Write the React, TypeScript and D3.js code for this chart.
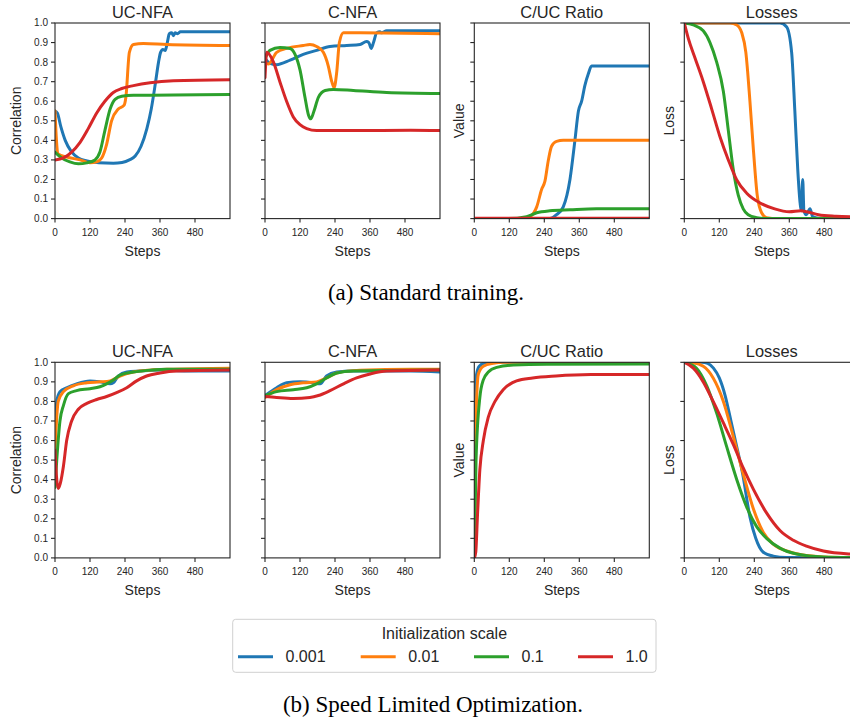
import React from "react";
import * as d3 from "d3";

type Pt = [number, number];

// Initialization scales (legend entries) and their colours
const SCALES = ["0.001", "0.01", "0.1", "1.0"];
const COLORS = ["#1f77b4", "#ff7f0e", "#2ca02c", "#d62728"];

const X_TICKS = [0, 120, 240, 360, 480];
const TENTHS = [0, 0.1, 0.2, 0.3, 0.4, 0.5, 0.6, 0.7, 0.8, 0.9, 1.0];
const FIFTHS = [0, 0.2, 0.4, 0.6, 0.8, 1.0];

// ---------- (a) Standard training ----------
const STD_UC_NFA: Pt[][] = [
  [[0, 0.55], [8, 0.54], [20, 0.47], [35, 0.4], [55, 0.345], [80, 0.31], [110, 0.295], [150, 0.285], [200, 0.283], [230, 0.287], [255, 0.3], [275, 0.32], [295, 0.37], [315, 0.46], [330, 0.56], [345, 0.7], [355, 0.8], [362, 0.85], [370, 0.865], [378, 0.86], [385, 0.9], [392, 0.945], [400, 0.95], [406, 0.935], [412, 0.95], [420, 0.945], [430, 0.955], [600, 0.955]],
  [[0, 0.55], [5, 0.4], [11, 0.33], [40, 0.315], [86, 0.3], [120, 0.285], [143, 0.29], [160, 0.31], [177, 0.38], [194, 0.5], [217, 0.56], [237, 0.58], [243, 0.62], [255, 0.85], [269, 0.89], [303, 0.895], [383, 0.89], [600, 0.885]],
  [[0, 0.34], [23, 0.31], [51, 0.29], [80, 0.28], [109, 0.285], [137, 0.3], [154, 0.34], [171, 0.45], [189, 0.56], [206, 0.61], [229, 0.625], [269, 0.63], [600, 0.635]],
  [[0, 0.3], [29, 0.31], [57, 0.34], [86, 0.39], [114, 0.46], [143, 0.54], [171, 0.6], [200, 0.645], [229, 0.665], [269, 0.68], [326, 0.695], [406, 0.705], [600, 0.71]],
];

const STD_C_NFA: Pt[][] = [
  [[0, 0.82], [15, 0.795], [40, 0.787], [86, 0.81], [131, 0.84], [177, 0.86], [223, 0.88], [280, 0.885], [326, 0.89], [348, 0.905], [356, 0.9], [364, 0.87], [372, 0.9], [383, 0.95], [394, 0.955], [400, 0.95], [417, 0.96], [600, 0.96]],
  [[0, 0.8], [11, 0.79], [40, 0.85], [74, 0.87], [131, 0.885], [154, 0.89], [177, 0.88], [200, 0.85], [217, 0.78], [229, 0.7], [237, 0.67], [246, 0.75], [255, 0.9], [269, 0.95], [326, 0.95], [600, 0.945]],
  [[0, 0.82], [17, 0.86], [51, 0.875], [86, 0.87], [103, 0.84], [120, 0.76], [137, 0.62], [149, 0.53], [157, 0.51], [168, 0.55], [183, 0.62], [206, 0.655], [234, 0.66], [303, 0.655], [417, 0.645], [600, 0.64]],
  [[0, 0.72], [6, 0.85], [29, 0.8], [51, 0.7], [74, 0.6], [97, 0.52], [120, 0.48], [143, 0.46], [177, 0.45], [300, 0.45], [500, 0.452], [600, 0.45]],
];

const STD_RATIO: Pt[][] = [
  [[0, 0], [259, 0], [282, 0.02], [305, 0.06], [328, 0.2], [345, 0.4], [357, 0.55], [368, 0.6], [379, 0.68], [391, 0.74], [402, 0.78], [414, 0.78], [600, 0.78]],
  [[0, 0], [168, 0], [191, 0.01], [214, 0.06], [231, 0.15], [242, 0.19], [254, 0.3], [265, 0.37], [282, 0.395], [305, 0.4], [600, 0.4]],
  [[0, 0], [111, 0], [179, 0.01], [214, 0.03], [259, 0.04], [328, 0.045], [419, 0.05], [600, 0.05]],
  [[0, 0.002], [600, 0.002]],
];

const STD_LOSS: Pt[][] = [
  [[0, 1], [328, 1], [351, 0.98], [368, 0.85], [379, 0.55], [389, 0.25], [397, 0.08], [401, 0.04], [406, 0.2], [410, 0.04], [418, 0.02], [431, 0.05], [440, 0.01], [460, 0.002], [600, 0]],
  [[0, 1], [157, 1], [180, 0.99], [197, 0.95], [211, 0.85], [225, 0.6], [237, 0.35], [250, 0.12], [265, 0.03], [282, 0.005], [320, 0], [600, 0]],
  [[0, 1], [31, 0.99], [65, 0.96], [88, 0.9], [111, 0.8], [134, 0.65], [151, 0.45], [168, 0.25], [185, 0.12], [202, 0.05], [219, 0.02], [248, 0.005], [282, 0], [600, 0]],
  [[0, 1], [14, 0.92], [37, 0.82], [65, 0.7], [94, 0.56], [122, 0.42], [151, 0.3], [179, 0.2], [214, 0.13], [260, 0.08], [310, 0.05], [360, 0.035], [400, 0.04], [420, 0.035], [460, 0.02], [520, 0.012], [600, 0.008]],
];

// ---------- (b) Speed limited optimization ----------
const SLO_UC_NFA: Pt[][] = [
  [[0, 0.6], [6, 0.8], [17, 0.85], [40, 0.87], [74, 0.89], [120, 0.905], [154, 0.9], [189, 0.89], [200, 0.895], [217, 0.93], [246, 0.95], [291, 0.955], [360, 0.96], [451, 0.955], [600, 0.955]],
  [[0, 0.55], [11, 0.8], [29, 0.85], [63, 0.88], [109, 0.895], [154, 0.9], [189, 0.905], [223, 0.93], [269, 0.95], [326, 0.96], [406, 0.965], [600, 0.97]],
  [[0, 0.36], [6, 0.5], [17, 0.7], [29, 0.78], [46, 0.84], [74, 0.855], [120, 0.865], [154, 0.875], [177, 0.89], [200, 0.91], [223, 0.935], [269, 0.95], [326, 0.96], [383, 0.965], [600, 0.965]],
  [[0, 0.55], [6, 0.4], [11, 0.355], [18, 0.38], [29, 0.47], [40, 0.6], [57, 0.7], [80, 0.76], [109, 0.79], [143, 0.81], [177, 0.825], [211, 0.845], [246, 0.87], [280, 0.905], [314, 0.93], [360, 0.945], [417, 0.955], [600, 0.96]],
];

const SLO_C_NFA: Pt[][] = [
  [[0, 0.83], [40, 0.87], [74, 0.895], [120, 0.9], [166, 0.895], [189, 0.89], [211, 0.93], [246, 0.95], [303, 0.955], [500, 0.955], [600, 0.95]],
  [[0, 0.82], [40, 0.86], [86, 0.885], [131, 0.895], [177, 0.9], [211, 0.92], [246, 0.945], [326, 0.96], [500, 0.965], [600, 0.965]],
  [[0, 0.83], [40, 0.85], [97, 0.86], [143, 0.87], [177, 0.89], [211, 0.92], [246, 0.945], [303, 0.955], [600, 0.96]],
  [[0, 0.825], [40, 0.82], [97, 0.815], [154, 0.82], [183, 0.83], [223, 0.855], [269, 0.89], [314, 0.92], [360, 0.94], [417, 0.955], [600, 0.96]],
];

const SLO_RATIO: Pt[][] = [
  [[0, 0], [3, 0.7], [8, 0.94], [17, 0.98], [37, 0.997], [60, 1], [600, 1]],
  [[0, 0], [4, 0.6], [14, 0.94], [31, 0.98], [65, 0.995], [100, 1], [600, 1]],
  [[0, 0], [6, 0.5], [19, 0.82], [31, 0.91], [48, 0.95], [77, 0.974], [134, 0.986], [248, 0.99], [600, 0.991]],
  [[0, 0], [5, 0.03], [11, 0.22], [19, 0.45], [31, 0.6], [48, 0.72], [71, 0.8], [99, 0.86], [145, 0.905], [200, 0.92], [280, 0.93], [400, 0.937], [600, 0.938]],
];

const SLO_LOSS: Pt[][] = [
  [[0, 1], [60, 1], [80, 0.995], [100, 0.97], [120, 0.92], [140, 0.83], [160, 0.7], [175, 0.6], [200, 0.43], [225, 0.21], [245, 0.1], [270, 0.03], [305, 0.009], [350, 0.002], [600, 0]],
  [[0, 1], [30, 0.997], [65, 0.98], [99, 0.92], [134, 0.8], [168, 0.62], [202, 0.43], [237, 0.25], [271, 0.13], [305, 0.07], [362, 0.03], [419, 0.012], [477, 0.005], [600, 0.002]],
  [[0, 1], [20, 0.99], [42, 0.97], [77, 0.88], [111, 0.74], [145, 0.57], [180, 0.4], [214, 0.26], [248, 0.16], [282, 0.1], [328, 0.05], [385, 0.02], [477, 0.005], [600, 0.002]],
  [[0, 1], [31, 0.97], [65, 0.9], [99, 0.8], [134, 0.69], [168, 0.58], [202, 0.46], [237, 0.35], [282, 0.23], [328, 0.14], [374, 0.09], [419, 0.06], [477, 0.035], [568, 0.02], [600, 0.018]],
];

const TITLES = ["UC-NFA", "C-NFA", "C/UC Ratio", "Losses"];
const Y_LABELS = ["Correlation", "", "Value", "Loss"];
const CAPTIONS = ["(a) Standard training.", "(b) Speed Limited Optimization."];
const ROWS = [
  [STD_UC_NFA, STD_C_NFA, STD_RATIO, STD_LOSS],
  [SLO_UC_NFA, SLO_C_NFA, SLO_RATIO, SLO_LOSS],
];

const W = 850;
const H = 717;
const PANEL_LEFTS = [55, 265, 474.3, 684.3];
const PANEL_W = 175;
const PANEL_H = 195.6;
const ROW_TOPS = [23, 362.3];
const INK = "#262626";
const SANS = "'Liberation Sans', Arial, sans-serif";
const SERIF = "'Liberation Serif', 'Times New Roman', serif";

function Panel({ row, col, series }: { row: number; col: number; series: Pt[][] }) {
  const left = PANEL_LEFTS[col];
  const top = ROW_TOPS[row];
  const x = d3.scaleLinear().domain([0, 600]).range([0, PANEL_W]);
  const y = d3.scaleLinear().domain([0, 1]).range([PANEL_H, 0]);
  const line = d3
    .line<Pt>()
    .x((d) => x(d[0]))
    .y((d) => y(d[1]))
    .curve(d3.curveMonotoneX);
  const yTicks = col === 3 ? FIFTHS : TENTHS;
  const clipId = `clip-${row}-${col}`;
  const yLabelOffset = col === 0 ? 39 : 15.5;
  return (
    <g transform={`translate(${left},${top})`}>
      <defs>
        <clipPath id={clipId}>
          <rect x={0} y={0} width={PANEL_W} height={PANEL_H} />
        </clipPath>
      </defs>
      <g clipPath={`url(#${clipId})`}>
        {series.map((s, i) => (
          <path
            key={i}
            d={line(s) || ""}
            fill="none"
            stroke={COLORS[i]}
            strokeWidth={3}
            strokeLinejoin="round"
            strokeLinecap="round"
          />
        ))}
      </g>
      <rect x={0} y={0} width={PANEL_W} height={PANEL_H} fill="none" stroke={INK} strokeWidth={1.1} />
      {X_TICKS.map((t) => (
        <g key={t} transform={`translate(${x(t)},${PANEL_H})`}>
          <line y1={0} y2={4} stroke={INK} strokeWidth={1.1} />
          <text y={17} textAnchor="middle" fontSize={10} fill={INK} fontFamily={SANS}>
            {t}
          </text>
        </g>
      ))}
      {yTicks.map((t) => (
        <g key={t} transform={`translate(0,${y(t)})`}>
          <line x1={-4} x2={0} stroke={INK} strokeWidth={1.1} />
          {col === 0 && (
            <text x={-7} dy="0.34em" textAnchor="end" fontSize={10} fill={INK} fontFamily={SANS}>
              {t.toFixed(1)}
            </text>
          )}
        </g>
      ))}
      <text x={PANEL_W / 2} y={-5.5} textAnchor="middle" fontSize={16.4} fill={INK} fontFamily={SANS}>
        {TITLES[col]}
      </text>
      <text x={PANEL_W / 2} y={PANEL_H + 37} textAnchor="middle" fontSize={14} fill={INK} fontFamily={SANS}>
        Steps
      </text>
      {Y_LABELS[col] && (
        <text
          transform={`translate(${-yLabelOffset},${PANEL_H / 2}) rotate(-90)`}
          textAnchor="middle"
          dy="0.35em"
          fontSize={14}
          fill={INK}
          fontFamily={SANS}
        >
          {Y_LABELS[col]}
        </text>
      )}
    </g>
  );
}

function Legend() {
  const x0 = 232.7;
  const y0 = 619.3;
  const entryX = [238, 360.7, 474, 578];
  return (
    <g>
      <rect x={x0} y={y0} width={423.3} height={53} rx={3} fill="#fff" stroke="#d0d0d0" strokeWidth={1} />
      <text x={x0 + 423.3 / 2} y={y0 + 13.6} dy="0.35em" textAnchor="middle" fontSize={16} fill={INK} fontFamily={SANS}>
        Initialization scale
      </text>
      {SCALES.map((s, i) => (
        <g key={s}>
          <line x1={entryX[i]} x2={entryX[i] + 35} y1={656.7} y2={656.7} stroke={COLORS[i]} strokeWidth={3} />
          <text x={entryX[i] + 47.5} y={656.7} dy="0.35em" fontSize={16} fill={INK} fontFamily={SANS}>
            {s}
          </text>
        </g>
      ))}
    </g>
  );
}

export default function App() {
  return (
    <svg
      width={W}
      height={H}
      viewBox={`0 0 ${W} ${H}`}
      style={{ position: "absolute", left: 0, top: 0, background: "#fff", overflow: "hidden" }}
    >
      <rect width={W} height={H} fill="#fff" />
      {ROWS.map((row, r) =>
        row.map((series, c) => <Panel key={`${r}-${c}`} row={r} col={c} series={series} />)
      )}
      <text x={426} y={292} dy="0.35em" textAnchor="middle" fontSize={23} fill="#000" fontFamily={SERIF}>
        {CAPTIONS[0]}
      </text>
      <Legend />
      <text x={433} y={704} dy="0.35em" textAnchor="middle" fontSize={23} fill="#000" fontFamily={SERIF}>
        {CAPTIONS[1]}
      </text>
    </svg>
  );
}
